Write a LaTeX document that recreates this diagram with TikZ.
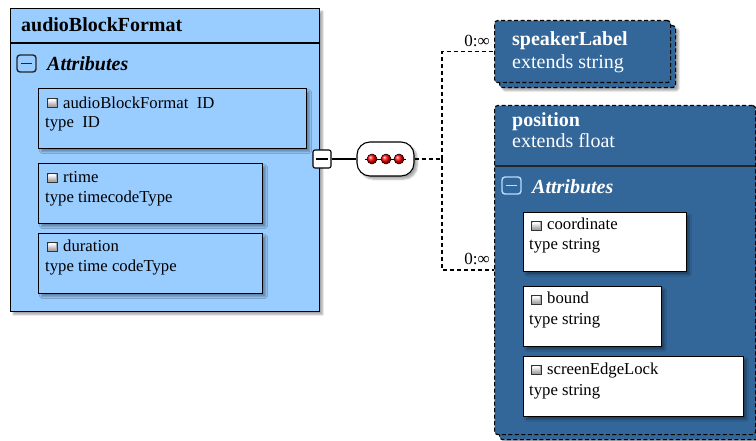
\documentclass[tikz,border=0pt]{standalone}
\usepackage{fontspec}
\setmainfont{Liberation Serif}
\usetikzlibrary{shadows.blur}
\definecolor{lightblue}{HTML}{99CCFF}
\definecolor{darkblue}{HTML}{336699}
\tikzset{
  sh/.style={blur shadow={shadow xshift=3pt, shadow yshift=-3pt, shadow blur steps=6, shadow opacity=35}},
  mainbox/.style={draw=black, line width=1.1pt, fill=lightblue, sh, inner sep=0pt, anchor=north west},
  abox/.style={draw=black, line width=1.1pt, sh, inner sep=0pt, anchor=north west},
  dbox/.style={draw=black, line width=1.2pt, dash pattern=on 4pt off 2.5pt, fill=darkblue, rounded corners=3pt, inner sep=0pt, anchor=north west},
  hdr/.style={font=\fontsize{20}{23}\selectfont, inner sep=0pt, anchor=base west},
  txt/.style={font=\fontsize{16.7}{20}\selectfont, inner sep=0pt, anchor=base west},
  card/.style={font=\fontsize{17}{20}\selectfont, inner sep=0pt, anchor=base east},
  dline/.style={draw=black, line width=1.2pt, dash pattern=on 4pt off 3pt},
  aticon/.pic={
    \draw[line width=0.7pt, draw=black!80, fill=gray!70] (0,0) rectangle (10,9);
    \shade[top color=white, bottom color=gray!70] (1.5,1.5) rectangle (8.5,7.5);
  },
  minusicon/.pic={
    \draw[line width=1.4pt, rounded corners=3pt] (0,0) rectangle (19,17);
    \draw[line width=1.4pt] (4,8.5) -- (15,8.5);
  }
}
\begin{document}
\begin{tikzpicture}[x=1pt,y=-1pt]
\useasboundingbox (0,0) rectangle (756,441);

% ---------- audioBlockFormat ----------
\node[mainbox, minimum width=309pt, minimum height=303pt] (main) at (10,8) {};
\draw[line width=1.1pt] (10,43) -- (319,43);
\node[hdr, font=\fontsize{20}{23}\selectfont\bfseries] (title) at (21,32) {audioBlockFormat};
\pic[draw=black!85] at (17,55) {minusicon};
\node[hdr, font=\fontsize{20}{23}\selectfont\bfseries\itshape] (attr1) at (47,71) {Attributes};

\node[abox, fill=lightblue, minimum width=268pt, minimum height=60pt] (a1) at (38,88) {};
\pic at (47,98) {aticon};
\node[txt] (a1n) at (63,109) {audioBlockFormat\ \ ID};
\node[txt] (a1t) at (45,128) {type\ \ ID};

\node[abox, fill=lightblue, minimum width=224pt, minimum height=60pt] (a2) at (38,163) {};
\pic at (47,173) {aticon};
\node[txt] (a2n) at (63,183) {rtime};
\node[txt] (a2t) at (45,203) {type timecodeType};

\node[abox, fill=lightblue, minimum width=224pt, minimum height=60pt] (a3) at (38,233) {};
\pic at (47,242) {aticon};
\node[txt] (a3n) at (63,252) {duration};
\node[txt] (a3t) at (45,272) {type time codeType};

% ---------- connector and sequence ----------
\node[draw=black, fill=white, line width=1.1pt, rounded corners=2pt, minimum size=18pt, inner sep=0pt] (cm) at (322,159) {};
\draw[line width=1.1pt] (cm.west) ++(3.5pt,0) -- ([xshift=-3.5pt]cm.east);
\node[draw=black, fill=white, line width=1.1pt, rounded corners=13pt, minimum width=57pt, minimum height=34pt, inner sep=0pt, sh] (seq) at (385.5,159) {};
\draw[line width=1.1pt] (cm) -- (seq);
\draw[line width=0.9pt] (365,159) -- (406,159);
\foreach \px/\nm in {372/d1,386/d2,399/d3}{
  \node[circle, draw=black, line width=0.5pt, ball color=red, minimum size=10pt, inner sep=0pt] (\nm) at (\px,159) {};
}

% ---------- speakerLabel ----------
\node[dbox, minimum width=176pt, minimum height=62pt, sh] (spkb) at (499,25) {};
\node[dbox, minimum width=176pt, minimum height=62pt] (spk) at (494,20) {};
\node[hdr, text=white, font=\fontsize{20}{23}\selectfont\bfseries] (spkn) at (512,46) {speakerLabel};
\node[hdr, text=white] (spkt) at (512,69) {extends string};

% ---------- position ----------
\node[dbox, minimum width=261pt, minimum height=329pt, sh] (posb) at (499,110) {};
\node[dbox, minimum width=261pt, minimum height=329pt] (pos) at (494,105) {};
\draw[line width=1.1pt, draw=black!85] (494.5,166) -- (754.5,166);
\node[hdr, text=white, font=\fontsize{20}{23}\selectfont\bfseries] (posn) at (512,127) {position};
\node[hdr, text=white] (post) at (512,148) {extends float};
\pic[draw=lightblue!70!white] at (502,177) {minusicon};
\node[hdr, text=white, font=\fontsize{20}{23}\selectfont\bfseries\itshape] (attr2) at (532,194) {Attributes};

\node[abox, fill=white, minimum width=163pt, minimum height=59pt] (b1) at (523,212) {};
\pic at (531,221) {aticon};
\node[txt] (b1n) at (547,230) {coordinate};
\node[txt] (b1t) at (529,250) {type string};

\node[abox, fill=white, minimum width=138pt, minimum height=60pt] (b2) at (523,286) {};
\pic at (531,295) {aticon};
\node[txt] (b2n) at (547,304) {bound};
\node[txt] (b2t) at (529,324) {type string};

\node[abox, fill=white, minimum width=220pt, minimum height=60pt] (b3) at (523,356) {};
\pic at (531,365) {aticon};
\node[txt] (b3n) at (547,374) {screenEdgeLock};
\node[txt] (b3t) at (529,395) {type string};

% ---------- dashed connectors ----------
\coordinate (j) at (442,159);
\draw[dline] (seq.east) -- (j);
\draw[dline] (j) |- (spk.west);
\draw[dline] (j) |- (pos.west);
\node[card] (c1) at (490,47) {0:∞};
\node[card] (c2) at (490,265) {0:∞};
\end{tikzpicture}
\end{document}
